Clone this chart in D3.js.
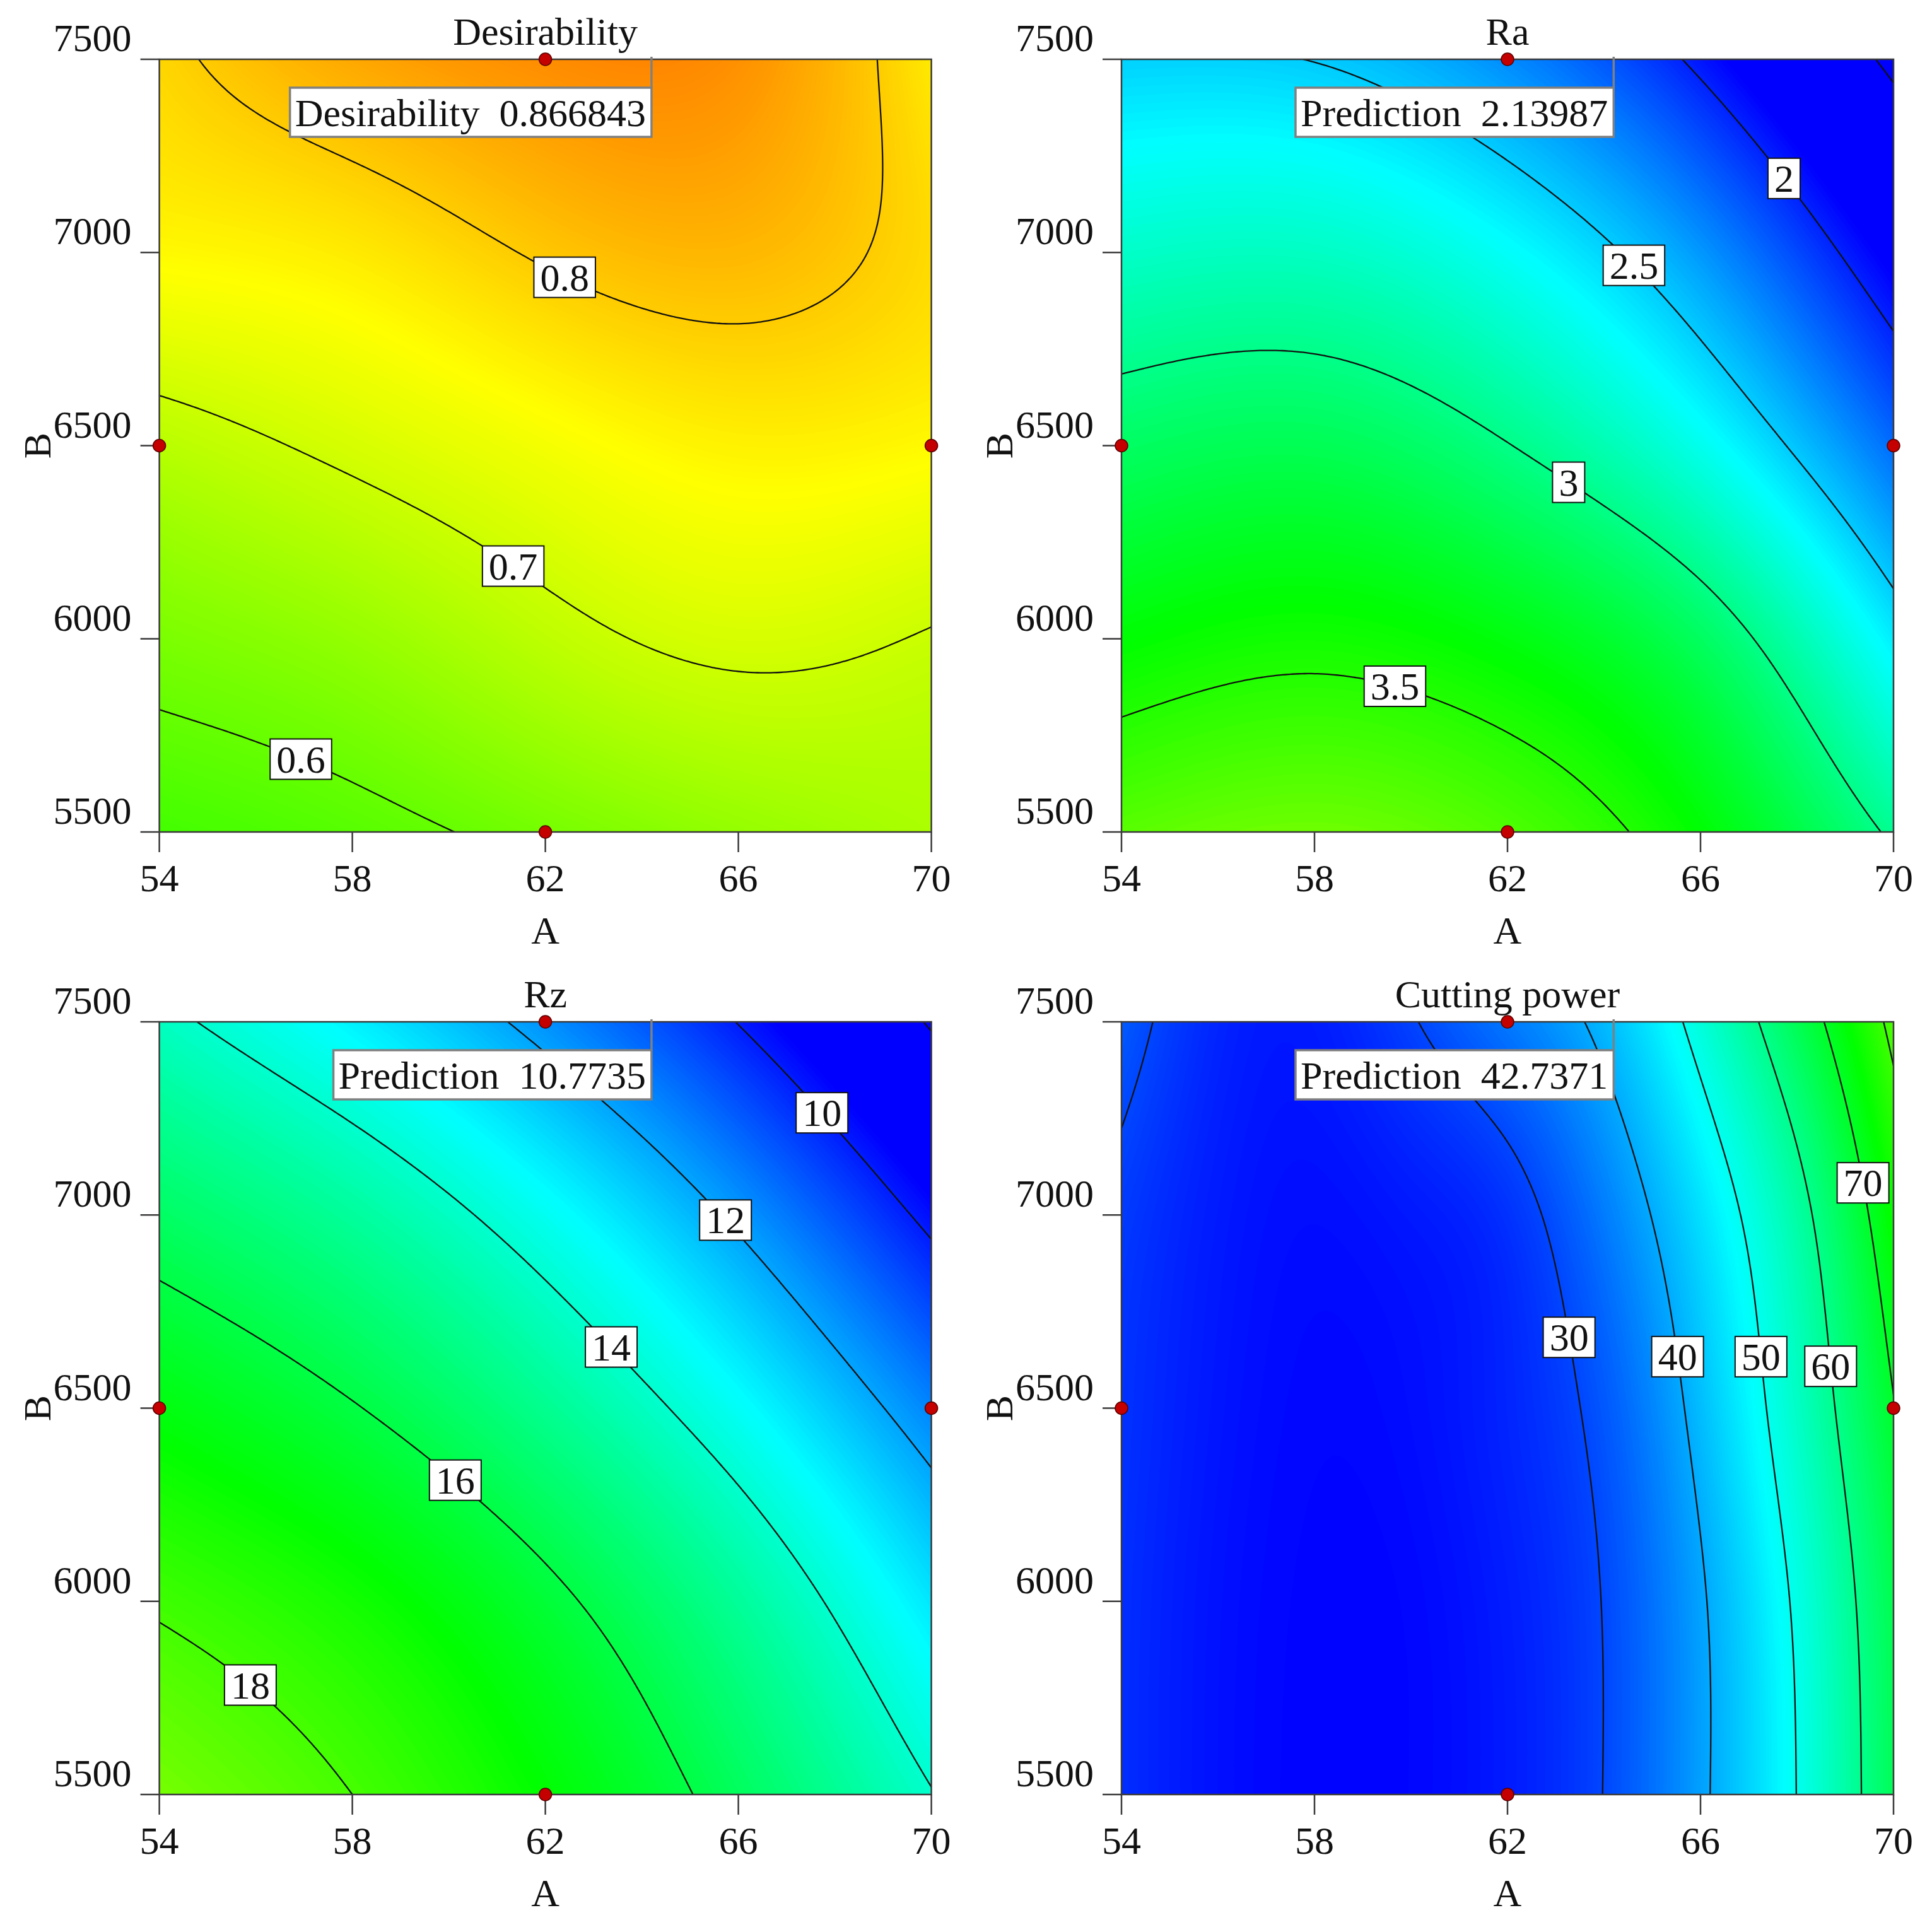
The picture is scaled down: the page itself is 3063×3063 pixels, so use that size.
<!DOCTYPE html>
<html>
<head>
<meta charset="utf-8">
<script src="https://cdn.jsdelivr.net/npm/d3@7"></script>
<style>
  body { margin: 0; background: #fff; }
  text { font-family: "Liberation Serif", "Times New Roman", serif; fill: #111; }
</style>
</head>
<body>
<svg id="chart" width="3063" height="3063"></svg>
<script>
// Factor ranges and tick values
const aTicks = [54, 58, 62, 66, 70];
const bTicks = [5500, 6000, 6500, 7000, 7500];

// Design points drawn as red dots
const designA = [62, 54, 70, 62];
const designB = [7500, 6500, 6500, 5500];

// Optimum flag location (shared by all four panels)
const flagA = 64.2;
const flagB = 7500;

// Response grids (rows = B ascending, cols = A ascending)
const coarseA = [54, 58, 62, 66, 70];
const coarseB = [5500, 6000, 6500, 7000, 7500];

const desirValues = [
  [0.565, 0.585, 0.615, 0.645, 0.667],
  [0.620, 0.645, 0.685, 0.710, 0.697],
  [0.680, 0.710, 0.740, 0.763, 0.755],
  [0.755, 0.770, 0.805, 0.820, 0.785],
  [0.790, 0.835, 0.862, 0.858, 0.770]
];
const desirLevels = [0.6, 0.7, 0.8];
const desirLabelSpots = [[0.6, 57.16, 5748], [0.7, 61.55, 6229], [0.8, 62.58, 6983]];
const desirStops = [0, 0.25, 0.5, 0.75, 1];

const raValues = [
  [3.660, 3.720, 3.630, 3.390, 2.970],
  [3.390, 3.450, 3.360, 3.120, 2.600],
  [3.110, 3.154, 3.006, 2.700, 2.215],
  [2.810, 2.825, 2.667, 2.345, 1.850],
  [2.515, 2.495, 2.310, 1.959, 1.450]
];
const raLevels = [1.5, 2, 2.5, 3, 3.5];
const raLabelSpots = [[2, 67.89, 7207], [2.5, 64.75, 6980], [3, 63.37, 6421], [3.5, 59.75, 5900]];
const raStops = [1.9, 2.65, 3.4, 4.15, 4.9];

const rzValues = [
  [18.70, 18.00, 16.98, 15.66, 14.04],
  [17.90, 17.26, 16.22, 14.78, 12.94],
  [16.80, 16.05, 14.92, 13.41, 11.52],
  [15.57, 14.74, 13.49, 11.83, 9.77],
  [14.20, 13.11, 11.70, 9.97, 7.91]
];
const rzLevels = [8, 10, 12, 14, 16, 18];
const rzLabelSpots = [[10, 67.94, 7284], [12, 65.78, 6996], [14, 63.39, 6658], [16, 60.09, 6308], [18, 55.97, 5791]];
const rzStops = [9.6, 13.3, 17.0, 20.7, 24.4];

const powerA = [54, 56, 58, 60, 62, 64, 66, 68, 70];
const powerValues = [
  [27.5, 24.5, 23.2, 23.5, 25.6, 30.1, 39.0, 50.1, 65.4],
  [27.6, 24.6, 23.3, 23.6, 25.8, 30.2, 39.3, 51.0, 66.2],
  [28.0, 25.0, 23.6, 24.2, 26.6, 31.7, 41.9, 54.2, 69.7],
  [28.8, 25.5, 24.2, 25.3, 27.9, 35.3, 45.4, 57.6, 74.7],
  [32.0, 26.6, 25.6, 29.6, 35.0, 41.6, 52.2, 65.7, 81.7]
];
const powerLevels = [30, 40, 50, 60, 70, 80];
const powerLabelSpots = [[30, 63.09, 6682], [40, 65.44, 6633], [50, 67.2, 6633], [60, 68.68, 6607], [70, 69.34, 7083]];
const powerStops = [23, 48.5, 74, 99.5, 125];

const panels = [
  { title: "Desirability", gridA: coarseA, gridB: coarseB, values: desirValues, levels: desirLevels,
    spots: desirLabelSpots, stops: desirStops, flag: ["Desirability", "0.866843"], col: 0, row: 0 },
  { title: "Ra", gridA: coarseA, gridB: coarseB, values: raValues, levels: raLevels,
    spots: raLabelSpots, stops: raStops, flag: ["Prediction", "2.13987"], col: 1, row: 0 },
  { title: "Rz", gridA: coarseA, gridB: coarseB, values: rzValues, levels: rzLevels,
    spots: rzLabelSpots, stops: rzStops, flag: ["Prediction", "10.7735"], col: 0, row: 1 },
  { title: "Cutting power", gridA: powerA, gridB: coarseB, values: powerValues, levels: powerLevels,
    spots: powerLabelSpots, stops: powerStops, flag: ["Prediction", "42.7371"], col: 1, row: 1 }
];

const panelX = [252.6, 1778];
const panelY = [94, 1620];
const panelW = 1224;
const panelH = 1225;
const N = 241;          // resampling grid size
const BANDS = 170;      // colour bands for the fill
const FONT = 62;

const rainbow = ["#0000ff", "#00ffff", "#00ff00", "#ffff00", "#ff0000"];

// natural cubic spline through (xs, ys)
function naturalSpline(xs, ys) {
  const n = xs.length;
  const h = [], al = [], l = [1], mu = [0], z = [0];
  const b = [], c = new Array(n).fill(0), d = [];
  for (let i = 0; i < n - 1; i++) h[i] = xs[i + 1] - xs[i];
  for (let i = 1; i < n - 1; i++) al[i] = 3 / h[i] * (ys[i + 1] - ys[i]) - 3 / h[i - 1] * (ys[i] - ys[i - 1]);
  for (let i = 1; i < n - 1; i++) {
    l[i] = 2 * (xs[i + 1] - xs[i - 1]) - h[i - 1] * mu[i - 1];
    mu[i] = h[i] / l[i];
    z[i] = (al[i] - h[i - 1] * z[i - 1]) / l[i];
  }
  z[n - 1] = 0;
  for (let j = n - 2; j >= 0; j--) {
    c[j] = (j === 0 ? 0 : z[j] - mu[j] * c[j + 1]);
    b[j] = (ys[j + 1] - ys[j]) / h[j] - h[j] * (c[j + 1] + 2 * c[j]) / 3;
    d[j] = (c[j + 1] - c[j]) / (3 * h[j]);
  }
  return x => {
    const i = Math.min(n - 2, Math.max(0, d3.bisectRight(xs, x) - 1));
    const t = x - xs[i];
    return ys[i] + b[i] * t + c[i] * t * t + d[i] * t * t * t;
  };
}

// resample the read grid onto an N x N field (row 0 = top = B 7500)
function resample(p) {
  const field = new Float64Array(N * N);
  const rows = p.values.map(r => naturalSpline(p.gridA, r));
  for (let i = 0; i < N; i++) {
    const a = 54 + 16 * i / (N - 1);
    const col = naturalSpline(p.gridB, rows.map(s => s(a)));
    for (let j = 0; j < N; j++) {
      const bv = 7500 - 2000 * j / (N - 1);
      field[j * N + i] = col(bv);
    }
  }
  return field;
}

// split contour rings into open iso-lines, dropping the parts on the grid border
function isoLines(geom) {
  const onEdge = q => q[0] <= 0 || q[0] >= N || q[1] <= 0 || q[1] >= N;
  const out = [];
  geom.coordinates.forEach(poly => poly.forEach(ring => {
    const pts = ring.slice(0, -1);
    const s = pts.findIndex(onEdge);
    if (s < 0) { out.push(ring); return; }
    const seq = pts.slice(s).concat(pts.slice(0, s + 1));
    let cur = [seq[0]];
    for (let k = 1; k < seq.length; k++) {
      cur.push(seq[k]);
      if (onEdge(seq[k])) {
        if (cur.length > 2) out.push(cur);
        cur = [seq[k]];
      }
    }
  }));
  return out;
}

const svg = d3.select("#chart");
svg.append("rect").attr("width", 3063).attr("height", 3063).attr("fill", "#fff");
const defs = svg.append("defs");

panels.forEach((p, idx) => {
  const x0 = panelX[p.col], y0 = panelY[p.row];
  const x = d3.scaleLinear().domain([54, 70]).range([x0, x0 + panelW]);
  const y = d3.scaleLinear().domain([5500, 7500]).range([y0 + panelH, y0]);
  // grid coordinate -> data
  const gA = d3.scaleLinear().domain([0.5, N - 0.5]).range([54, 70]);
  const gB = d3.scaleLinear().domain([0.5, N - 0.5]).range([7500, 5500]);
  const px = c => x(gA(c));
  const py = c => y(gB(c));

  const colour = d3.scaleLinear().domain(p.stops).range(rainbow).clamp(true);
  const field = resample(p);
  const lo = d3.min(field), hi = d3.max(field);
  const step = (hi - lo) / BANDS;
  const thresholds = d3.range(1, BANDS).map(k => lo + k * step);

  const contours = d3.contours().size([N, N]);
  const path = d3.geoPath(d3.geoTransform({
    point(cx, cy) { this.stream.point(px(cx), py(cy)); }
  }));

  const clipId = "clip" + idx;
  defs.append("clipPath").attr("id", clipId)
    .append("rect").attr("x", x0).attr("y", y0).attr("width", panelW).attr("height", panelH);

  const g = svg.append("g");
  const plot = g.append("g").attr("clip-path", `url(#${clipId})`);

  // colour fill
  plot.append("rect")
    .attr("x", x0).attr("y", y0).attr("width", panelW).attr("height", panelH)
    .attr("fill", colour(lo + step / 2));
  plot.append("g").selectAll("path")
    .data(contours.thresholds(thresholds)(field))
    .join("path")
    .attr("d", path)
    .attr("fill", d => colour(d.value + step / 2))
    .attr("stroke", d => colour(d.value + step / 2))
    .attr("stroke-width", 0.6);

  // contour lines
  const line = d3.line().x(q => px(q[0])).y(q => py(q[1]));
  const lineSets = p.levels.map(level => ({ level, lines: isoLines(contours.contour(field, level)) }));
  plot.append("g").selectAll("path")
    .data(lineSets.flatMap(s => s.lines))
    .join("path")
    .attr("d", line)
    .attr("fill", "none")
    .attr("stroke", "#111")
    .attr("stroke-width", 2.3);

  // contour labels, snapped to the nearest point of their line
  const labelLayer = g.append("g");
  p.spots.forEach(([level, la, lb]) => {
    const set = lineSets.find(s => s.level === level);
    const ax = x(la), ay = y(lb);
    let best = [ax, ay], bestD = Infinity;
    set.lines.forEach(ln => ln.forEach(q => {
      const qx = px(q[0]), qy = py(q[1]);
      const dd = (qx - ax) ** 2 + (qy - ay) ** 2;
      if (dd < bestD && qx > x0 && qx < x0 + panelW && qy > y0 && qy < y0 + panelH) { bestD = dd; best = [qx, qy]; }
    }));
    const lg = labelLayer.append("g");
    const t = lg.append("text")
      .attr("x", best[0]).attr("y", best[1] + FONT * 0.34)
      .attr("text-anchor", "middle")
      .attr("font-size", FONT)
      .text(String(level));
    const tw = t.node().getComputedTextLength();
    lg.insert("rect", "text")
      .attr("x", best[0] - tw / 2 - 10).attr("y", best[1] - 32)
      .attr("width", tw + 20).attr("height", 64)
      .attr("fill", "#fff").attr("stroke", "#111").attr("stroke-width", 2);
  });

  // frame
  g.append("rect")
    .attr("x", x0).attr("y", y0).attr("width", panelW).attr("height", panelH)
    .attr("fill", "none").attr("stroke", "#3a3a3a").attr("stroke-width", 2.5);

  // x axis ticks + labels
  g.append("g").selectAll("line").data(aTicks).join("line")
    .attr("x1", d => x(d)).attr("x2", d => x(d))
    .attr("y1", y0 + panelH).attr("y2", y0 + panelH + 32)
    .attr("stroke", "#3a3a3a").attr("stroke-width", 2.5);
  g.append("g").selectAll("text").data(aTicks).join("text")
    .attr("x", d => x(d)).attr("y", y0 + panelH + 94)
    .attr("text-anchor", "middle").attr("font-size", FONT)
    .text(d => d);

  // y axis ticks + labels
  g.append("g").selectAll("line").data(bTicks).join("line")
    .attr("x1", x0 - 30).attr("x2", x0)
    .attr("y1", d => y(d)).attr("y2", d => y(d))
    .attr("stroke", "#3a3a3a").attr("stroke-width", 2.5);
  g.append("g").selectAll("text").data(bTicks).join("text")
    .attr("x", x0 - 44).attr("y", d => y(d) - 13)
    .attr("text-anchor", "end").attr("font-size", FONT)
    .text(d => d);

  // axis titles and panel title
  g.append("text")
    .attr("x", x0 + panelW / 2).attr("y", y0 + panelH + 177)
    .attr("text-anchor", "middle").attr("font-size", FONT).text("A");
  g.append("text")
    .attr("transform", `translate(${x0 - 173},${y0 + panelH / 2}) rotate(-90)`)
    .attr("text-anchor", "middle").attr("font-size", FONT).text("B");
  g.append("text")
    .attr("x", x0 + panelW / 2).attr("y", y0 - 23)
    .attr("text-anchor", "middle").attr("font-size", FONT).text(p.title);

  // design points
  g.append("g").selectAll("circle").data(designA.map((a, k) => [a, designB[k]])).join("circle")
    .attr("cx", d => x(d[0])).attr("cy", d => y(d[1])).attr("r", 10)
    .attr("fill", "#c40000").attr("stroke", "#5a0000").attr("stroke-width", 1.5);

  // prediction flag
  const fx = x(flagA), fy = y(flagB);
  const boxTop = fy + 45;
  const flag = g.append("g");
  const ft = flag.append("text")
    .attr("y", boxTop + 61)
    .attr("font-size", FONT)
    .text(p.flag[0] + "\u00a0\u00a0" + p.flag[1]);
  const fw = ft.node().getComputedTextLength();
  ft.attr("x", fx - 9 - fw);
  flag.insert("rect", "text")
    .attr("x", fx - fw - 17).attr("y", boxTop)
    .attr("width", fw + 17).attr("height", 78)
    .attr("fill", "#fff").attr("stroke", "#808080").attr("stroke-width", 3.5);
  flag.append("line")
    .attr("x1", fx).attr("x2", fx).attr("y1", boxTop).attr("y2", fy - 4)
    .attr("stroke", "#808080").attr("stroke-width", 3.5);
});
</script>
</body>
</html>
